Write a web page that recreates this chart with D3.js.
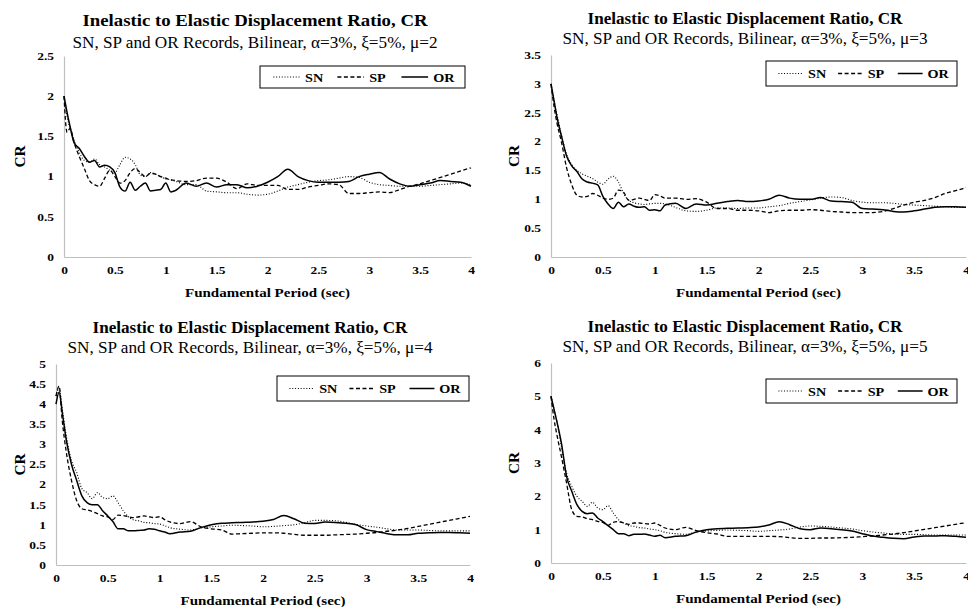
<!DOCTYPE html>
<html>
<head>
<meta charset="utf-8">
<script src="https://cdn.jsdelivr.net/npm/d3@7"></script>
<style>
    body { margin: 0; background: #fff; }
    svg text { font-family: "Liberation Serif", "Times New Roman", serif; fill: #000; }
    .title { font-weight: bold; font-size: 17.5px; }
    .subtitle { font-size: 16px; }
    .tick text { font-weight: bold; font-size: 10.5px; font-family: "Liberation Serif", serif; }
    .axisTitle { font-weight: bold; font-size: 13.5px; }
    .legendText { font-weight: bold; font-size: 13.5px; }
</style>
</head>
<body>
<div id="chart"></div>
<script>

// fundamental period (sec), shared by every series
const periods = [0, 0.03, 0.06, 0.1,
    0.15, 0.2, 0.25, 0.3, 0.35, 0.4, 0.45, 0.5,
    0.55, 0.6, 0.65, 0.7, 0.75, 0.8, 0.85, 0.9,
    0.95, 1.0, 1.05, 1.1,
    1.2, 1.3, 1.4, 1.5, 1.6, 1.7, 1.8, 1.9, 2.0,
    2.1, 2.2, 2.3, 2.4, 2.5, 2.6, 2.7, 2.8, 2.9, 3.0,
    3.1, 3.2, 3.3, 3.4, 3.5, 3.6, 3.7, 3.8, 3.9, 4.0];

const xTicks = [0, 0.5, 1, 1.5, 2, 2.5, 3, 3.5, 4];
const seriesNames = ["SN", "SP", "OR"];

// mu = 2
const sn2 = [2.0, 1.75, 1.6, 1.45,
    1.3, 1.2, 1.18, 1.22, 1.15, 1.12, 1.08, 1.05,
    1.15, 1.24, 1.22, 1.15, 1.02, 1.0, 1.05, 1.03,
    1.0, 0.97, 0.96, 0.94,
    0.9, 0.9, 0.82, 0.81, 0.8, 0.8, 0.78, 0.77, 0.78,
    0.82, 0.87, 0.9, 0.93, 0.95, 0.96, 0.98, 1.0, 0.99, 0.93,
    0.9, 0.89, 0.88, 0.88, 0.88, 0.89, 0.9, 0.91, 0.92, 0.9];
const sp2 = [2.0, 1.55, 1.6, 1.42,
    1.25, 1.1, 0.95, 0.9, 0.88, 0.98, 1.08, 1.0,
    0.92, 0.95, 1.05, 1.1, 1.05, 1.0, 1.04, 1.03,
    1.0, 0.98, 0.96, 0.95,
    0.94, 0.95, 0.98, 0.98, 0.93, 0.85, 0.91, 0.89, 0.89,
    0.89, 0.84, 0.84, 0.87, 0.89, 0.91, 0.9, 0.79, 0.79, 0.8,
    0.81, 0.8, 0.84, 0.88, 0.91, 0.95, 0.99, 1.03, 1.07, 1.11];
const or2 = [2.0, 1.8, 1.62, 1.42,
    1.35, 1.25, 1.18, 1.2, 1.12, 1.14, 1.12, 1.05,
    0.87, 0.82, 0.93, 0.83, 0.88, 0.92, 0.82, 0.83,
    0.84, 0.92, 0.81, 0.83,
    0.92, 0.88, 0.92, 0.87, 0.9, 0.9, 0.86, 0.88, 0.93,
    1.0, 1.09, 1.0, 0.95, 0.93, 0.93, 0.93, 0.94, 1.0, 1.03,
    1.05, 0.97, 0.91, 0.88, 0.9, 0.92, 0.95, 0.94, 0.93, 0.88];

// mu = 3
const sn3 = [3.0, 2.7, 2.45, 2.12,
    1.78, 1.6, 1.5, 1.44, 1.4, 1.36, 1.3, 1.26,
    1.35, 1.4, 1.3, 1.1, 0.98, 0.94, 0.92, 0.91,
    0.92, 0.93, 0.93, 0.92,
    0.86, 0.8, 0.79, 0.81, 0.85, 0.85, 0.84, 0.85, 0.85,
    0.87, 0.89, 0.93, 0.96, 0.99, 1.02, 1.04, 1.03, 0.98, 0.95,
    0.94, 0.94, 0.93, 0.91, 0.9, 0.89, 0.88, 0.87, 0.86, 0.86];
const sp3 = [3.0, 2.6, 2.3, 2.0,
    1.55, 1.25, 1.07, 1.04, 1.05, 1.1, 1.07, 1.02,
    1.0, 1.02, 1.16, 1.12, 0.98, 1.0, 1.02, 1.0,
    0.98, 1.08, 1.06, 1.02,
    1.02, 1.0, 1.01, 0.95, 0.84, 0.84, 0.81, 0.81, 0.8,
    0.77, 0.8, 0.81, 0.81, 0.82, 0.81, 0.79, 0.78, 0.77, 0.77,
    0.77, 0.79, 0.84, 0.9, 0.95, 0.98, 1.03, 1.1, 1.15, 1.2];
const or3 = [3.0, 2.7, 2.4, 2.1,
    1.75, 1.58, 1.48, 1.35, 1.3, 1.28, 1.25, 1.05,
    0.92, 0.84, 0.95, 0.87, 0.92, 0.88, 0.86, 0.87,
    0.81, 0.82, 0.8, 0.9,
    0.93, 0.84, 0.92, 0.9, 0.93, 0.96, 0.98, 0.96, 0.97,
    1.0, 1.07, 1.02, 1.0, 1.0, 1.03, 0.97, 0.96, 0.95, 0.84,
    0.83, 0.82, 0.79, 0.78, 0.8, 0.83, 0.86, 0.87, 0.87, 0.86];

// mu = 4
const sn4 = [4.2, 4.4, 3.9, 3.2,
    2.6, 2.3, 1.9, 1.8, 1.65, 1.8, 1.68, 1.65,
    1.72, 1.55, 1.35, 1.2, 1.12, 1.1, 1.06, 1.05,
    1.03, 1.02, 0.98, 0.93,
    0.89, 0.87, 0.92, 0.95, 0.97, 0.99, 0.98, 0.97, 0.95,
    0.96, 0.98, 1.0, 1.05, 1.11, 1.11, 1.1, 1.06, 1.01, 0.97,
    0.94, 0.9, 0.87, 0.87, 0.87, 0.86, 0.85, 0.85, 0.85, 0.85];
const sp4 = [4.2, 4.45, 3.6, 2.8,
    2.1, 1.6, 1.4, 1.37, 1.33, 1.28, 1.22, 1.2,
    1.13, 1.24, 1.23, 1.2, 1.18, 1.2, 1.22, 1.2,
    1.18, 1.2, 1.13, 1.07,
    1.03, 1.08, 0.95, 0.9, 0.87, 0.77, 0.78, 0.79, 0.8,
    0.8, 0.79, 0.76, 0.74, 0.74, 0.74, 0.75, 0.76, 0.77, 0.79,
    0.81, 0.84, 0.87, 0.91, 0.96, 1.01, 1.06, 1.11, 1.16, 1.21];
const or4 = [4.0, 4.3, 3.8, 3.1,
    2.5, 2.1, 1.72, 1.55, 1.5, 1.5, 1.35, 1.22,
    1.08, 0.9, 0.9, 0.85, 0.85, 0.86, 0.87, 0.9,
    0.89, 0.85, 0.82, 0.78,
    0.82, 0.84, 0.93, 1.0, 1.04, 1.05, 1.06, 1.07, 1.09,
    1.13, 1.23, 1.15, 1.04, 1.03, 1.07, 1.06, 1.04, 1.0, 0.88,
    0.83, 0.78, 0.75, 0.75, 0.79, 0.8, 0.81, 0.81, 0.8, 0.79];

// mu = 5
const sn5 = [5.0, 4.6, 4.2, 3.5,
    2.7, 2.3, 2.0, 1.85, 1.7, 1.82, 1.65, 1.6,
    1.72, 1.5, 1.3, 1.2, 1.12, 1.1, 1.06, 1.05,
    1.02, 1.0, 0.97, 0.92,
    0.88, 0.86, 0.93, 0.96, 0.98, 0.99, 0.98, 0.97, 0.95,
    0.97, 0.99, 1.02, 1.08, 1.11, 1.1, 1.08, 1.05, 1.02, 0.97,
    0.93, 0.9, 0.87, 0.86, 0.86, 0.85, 0.84, 0.84, 0.84, 0.84];
const sp5 = [5.0, 4.3, 3.8, 3.2,
    2.4, 1.6, 1.4, 1.38, 1.33, 1.3, 1.25, 1.22,
    1.13, 1.22, 1.24, 1.2, 1.16, 1.2, 1.2, 1.18,
    1.17, 1.2, 1.13, 1.05,
    1.0, 1.07, 0.97, 0.91, 0.87, 0.8, 0.8, 0.8, 0.8,
    0.8, 0.79, 0.76, 0.74, 0.74, 0.75, 0.75, 0.76, 0.77, 0.79,
    0.81, 0.84, 0.87, 0.91, 0.96, 1.01, 1.06, 1.11, 1.16, 1.21];
const or5 = [5.0, 4.6, 4.2, 3.6,
    2.6, 2.15, 1.75, 1.55, 1.48, 1.5, 1.35, 1.24,
    1.12, 1.0, 0.88, 0.88, 0.82, 0.86, 0.86, 0.87,
    0.84, 0.8, 0.83, 0.76,
    0.8, 0.82, 0.93, 1.0, 1.03, 1.04, 1.05, 1.06, 1.08,
    1.14, 1.24, 1.15, 1.03, 1.0, 1.05, 1.03, 1.0, 0.96, 0.88,
    0.81, 0.77, 0.74, 0.73, 0.78, 0.81, 0.81, 0.82, 0.8, 0.77];

const yTicks2 = [0, 0.5, 1, 1.5, 2, 2.5];
const yTicks3 = [0, 0.5, 1, 1.5, 2, 2.5, 3, 3.5];
const yTicks4 = [0, 0.5, 1, 1.5, 2, 2.5, 3, 3.5, 4, 4.5, 5];
const yTicks5 = [0, 1, 2, 3, 4, 5, 6];

// line styles for SN / SP / OR
const styles = {
    SN: { dash: "1,1.8", width: 1.1 },
    SP: { dash: "4,2.5", width: 1.3 },
    OR: { dash: null, width: 1.5 }
};

// panel layout
const panels = [
    { mu: 2, values: [sn2, sp2, or2], yTicks: yTicks2, titleW: 345,
      left: 64, right: 471, top: 56, bottom: 257, titleX: 255, titleY: 20, subY: 42, crX: 20,
      legend: { x: 260, y: 66, w: 205, h: 22 } },
    { mu: 3, values: [sn3, sp3, or3], yTicks: yTicks3, titleW: 315,
      left: 551, right: 966, top: 55, bottom: 257, titleX: 745, titleY: 18, subY: 38, crX: 514,
      legend: { x: 766, y: 61, w: 191, h: 25 } },
    { mu: 4, values: [sn4, sp4, or4], yTicks: yTicks4, titleW: 315,
      left: 56, right: 470, top: 364, bottom: 565, titleX: 250, titleY: 327, subY: 347, crX: 20,
      legend: { x: 277, y: 376, w: 192, h: 25 } },
    { mu: 5, values: [sn5, sp5, or5], yTicks: yTicks5, titleW: 315,
      left: 551, right: 966, top: 363, bottom: 563, titleX: 745, titleY: 326, subY: 346, crX: 514,
      legend: { x: 766, y: 379, w: 191, h: 24 } }
];

const svg = d3.select("#chart").append("svg")
    .attr("width", 968)
    .attr("height", 607);

// the original picture has wide, squat lettering; squeeze our text to the same widths
function fitWidth(sel, w) {
    sel.attr("textLength", w).attr("lengthAdjust", "spacingAndGlyphs");
}

function widen(sel, k) {
    sel.each(function () {
        let t = d3.select(this);
        t.attr("textLength", this.getComputedTextLength() * k).attr("lengthAdjust", "spacingAndGlyphs");
    });
}

panels.forEach(p => drawPanel(p));

function drawPanel(p) {

    let g = svg.append("g");

    let x = d3.scaleLinear().domain([0, 4]).range([p.left, p.right]);
    let y = d3.scaleLinear().domain([0, d3.max(p.yTicks)]).range([p.bottom, p.top]);

    g.append("text")
        .attr("class", "title")
        .attr("x", p.titleX)
        .attr("y", p.titleY)
        .attr("dy", "0.35em")
        .attr("text-anchor", "middle")
        .text("Inelastic to Elastic Displacement Ratio, CR")
        .call(fitWidth, p.titleW);

    g.append("text")
        .attr("class", "subtitle")
        .attr("x", p.titleX)
        .attr("y", p.subY)
        .attr("dy", "0.35em")
        .attr("text-anchor", "middle")
        .text("SN, SP and OR Records, Bilinear, α=3%, ξ=5%, μ=" + p.mu)
        .call(fitWidth, 365);

    // axes, Excel style: no tick marks, light grey lines
    let xAxis = g.append("g")
        .attr("transform", "translate(0," + p.bottom + ")")
        .call(d3.axisBottom(x).tickValues(xTicks).tickSize(0).tickPadding(10).tickFormat(d => String(d)));

    let yAxis = g.append("g")
        .attr("transform", "translate(" + p.left + ",0)")
        .call(d3.axisLeft(y).tickValues(p.yTicks).tickSize(0).tickPadding(10).tickFormat(d => String(d)));

    [xAxis, yAxis].forEach(a => {
        a.select(".domain").attr("stroke", "#bfbfbf").attr("stroke-width", 1.2);
        a.selectAll(".tick text").attr("fill", "#000").call(widen, 1.28);
    });

    g.append("text")
        .attr("class", "axisTitle")
        .attr("x", (p.left + p.right) / 2)
        .attr("y", p.bottom + 35)
        .attr("dy", "0.35em")
        .attr("text-anchor", "middle")
        .text("Fundamental Period (sec)")
        .call(fitWidth, 165);

    g.append("text")
        .attr("class", "axisTitle")
        .attr("transform", "translate(" + p.crX + "," + ((p.top + p.bottom) / 2) + ") rotate(-90)")
        .attr("dy", "0.35em")
        .attr("text-anchor", "middle")
        .style("font-size", "14.5px")
        .text("CR")
        .call(fitWidth, 22);

    let line = d3.line()
        .x((d, i) => x(periods[i]))
        .y(d => y(d))
        .curve(d3.curveMonotoneX);

    seriesNames.forEach((name, k) => {
        g.append("path")
            .datum(p.values[k])
            .attr("d", line)
            .attr("fill", "none")
            .attr("stroke", "#000")
            .attr("stroke-width", styles[name].width)
            .attr("stroke-dasharray", styles[name].dash);
    });

    // legend
    let L = p.legend;
    let lg = g.append("g").attr("transform", "translate(" + L.x + "," + L.y + ")");
    lg.append("rect")
        .attr("width", L.w)
        .attr("height", L.h)
        .attr("fill", "#fff")
        .attr("stroke", "#000")
        .attr("stroke-width", 1);

    let step = L.w / 3.2;
    seriesNames.forEach((name, k) => {
        let x0 = L.w * 0.065 + k * step;
        lg.append("line")
            .attr("x1", x0)
            .attr("x2", x0 + L.w * 0.13)
            .attr("y1", L.h / 2)
            .attr("y2", L.h / 2)
            .attr("stroke", "#000")
            .attr("stroke-width", styles[name].width)
            .attr("stroke-dasharray", styles[name].dash);
        lg.append("text")
            .attr("class", "legendText")
            .attr("x", x0 + L.w * 0.155)
            .attr("y", L.h / 2)
            .attr("dy", "0.35em")
            .text(name)
            .call(widen, 1.05);
    });
}
</script>
</body>
</html>
